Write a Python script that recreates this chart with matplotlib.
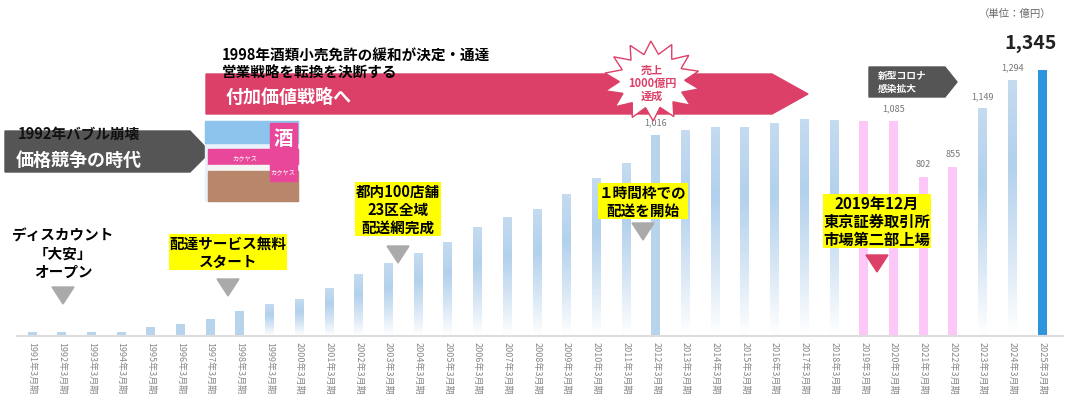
import numpy as np
import matplotlib
matplotlib.use("Agg")
import matplotlib.pyplot as plt
from matplotlib.patches import Polygon, Rectangle
from matplotlib.colors import LinearSegmentedColormap

plt.rcParams["font.family"] = "Noto Sans CJK JP"

years = list(range(1991, 2026))
sales = [20, 20, 20, 20, 45, 60, 85, 125, 160, 185, 240, 310, 365, 415, 475, 550,
         600, 640, 715, 795, 870, 1016, 1040, 1055, 1055, 1075, 1095, 1090, 1085,
         1085, 802, 855, 1149, 1294, 1345]
labels = [f"{y}年3月期" for y in years]
shown = {2012: "1,016", 2020: "1,085", 2021: "802", 2022: "855", 2023: "1,149", 2024: "1,294"}
solid_years = list(range(1991, 1999)) + [2012]
pink_years = [2019, 2020, 2021, 2022]

W, H = 1080, 410
fig = plt.figure(figsize=(W / 100, H / 100), dpi=100)
ax = fig.add_axes([0, 0, 1, 1])
pxu = (1042 - 32) / 34
vpp = 1345 / 266
ax.axis("off")

blue_fade = LinearSegmentedColormap.from_list("bf", ["#ffffff", "#d6e6f5", "#b3d1ec", "#c4dbf0"])
grad = np.linspace(1, 0, 100).reshape(-1, 1)
bw = 9 / pxu
for i, (y, v) in enumerate(zip(years, sales)):
    if y == 2025:
        ax.bar(i, v, bw, color="#2e95dc", zorder=2)
    elif y in pink_years:
        ax.bar(i, v, bw, color="#fcc8f8", zorder=2)
    elif y in solid_years:
        ax.bar(i, v, bw, color="#b8d4ec", zorder=2)
    else:
        ax.imshow(grad, cmap=blue_fade, aspect="auto", zorder=2,
                  extent=(i - bw / 2, i + bw / 2, 0, v))
    if y in shown:
        ax.text(i, v + 45, shown[y], ha="center", va="bottom", fontsize=6.5, color="#777777")
    ax.text(i, -25, labels[i], rotation=270, ha="center", va="top", fontsize=6.5, color="#888888")
ax.text(len(years) - 1 - 0.4, 1345 + 90, "1,345", ha="center", va="bottom",
        fontsize=14, fontweight="bold", color="#222222")
ax.plot([-0.5, len(years) - 0.3], [0, 0], color="#dddddd", lw=1.5, zorder=3)
ax.set_xlim(-32 / pxu, (W - 32) / pxu)
ax.set_ylim(-(H - 337) * vpp, 337 * vpp)

# overlay in pixel coordinates for annotations
ov = fig.add_axes([0, 0, 1, 1], facecolor="none")
ov.set_xlim(0, W)
ov.set_ylim(H, 0)
ov.axis("off")

ov.text(1015, 14, "（単位：億円）", ha="center", va="center", fontsize=7.5, color="#666666")

# pink strategy arrow
ov.add_patch(Polygon([(206, 75), (772, 75), (808, 95), (772, 115), (206, 115)], color="#dc4068"))
ov.text(226, 97, "付加価値戦略へ", color="white", fontsize=13, fontweight="bold", va="center")
ov.text(222, 56, "1998年酒類小売免許の緩和が決定・通達", fontsize=10.5, fontweight="bold", va="center")
ov.text(222, 73, "営業戦略を転換を決断する", fontsize=10.5, fontweight="bold", va="center")

# gray era arrow
ov.add_patch(Polygon([(5, 132), (190, 132), (210, 153), (190, 173), (5, 173)], color="#555555"))
ov.text(18, 134, "1992年バブル崩壊", fontsize=10.5, fontweight="bold", va="center", color="#111111")
ov.text(16, 160, "価格競争の時代", color="white", fontsize=13, fontweight="bold", va="center")

# store photo (simplified)
ov.add_patch(Rectangle((205, 122), 93, 80, color="#e9f1fa"))
ov.add_patch(Rectangle((205, 122), 93, 22, color="#8cc4ee"))
ov.add_patch(Rectangle((208, 150), 90, 16, color="#e8479a"))
ov.add_patch(Rectangle((208, 166), 90, 6, color="#f5f5f5"))
ov.add_patch(Rectangle((208, 172), 90, 30, color="#b8866a"))
ov.add_patch(Rectangle((270, 124), 27, 58, color="#e8479a"))
ov.text(283, 140, "酒", color="white", fontsize=14, fontweight="bold", ha="center", va="center")
ov.text(283, 172, "カクヤス", color="white", fontsize=4.5, ha="center", va="center")
ov.text(245, 158, "カクヤス", color="white", fontsize=4.5, ha="center", va="center")

# starburst
n = 14
ang = np.linspace(0, 2 * np.pi, 2 * n, endpoint=False) + 0.2
rad = np.where(np.arange(2 * n) % 2 == 0, 1.0, 0.68)
pts = np.c_[652 + 48 * rad * np.cos(ang), 82 + 40 * rad * np.sin(ang)]
ov.add_patch(Polygon(pts, facecolor="white", edgecolor="#dc4068", lw=1))
ov.text(652, 70, "売上", ha="center", va="center", fontsize=8, color="#dc4068", fontweight="bold")
ov.text(652, 83, "1000億円", ha="center", va="center", fontsize=8, color="#dc4068", fontweight="bold")
ov.text(652, 96, "達成", ha="center", va="center", fontsize=8, color="#dc4068", fontweight="bold")

# covid arrow
ov.add_patch(Polygon([(869, 68), (945, 68), (957, 83), (945, 98), (869, 98)], color="#555555"))
ov.text(878, 76, "新型コロナ", fontsize=7, color="white", va="center", fontweight="bold")
ov.text(878, 89, "感染拡大", fontsize=7, color="white", va="center", fontweight="bold")


def note(x, y, txt, tri_y, tri_color="#aaaaaa", yellow=True, size=10.5):
    kw = dict(ha="center", va="center", fontsize=size, fontweight="bold", linespacing=1.15)
    if yellow:
        kw["bbox"] = dict(boxstyle="square,pad=0.05", fc="#ffff00", ec="none")
    ov.text(x, y, txt, **kw)
    ov.add_patch(Polygon([(x - 11, tri_y), (x + 11, tri_y), (x, tri_y + 17)], color=tri_color))


note(63, 254, "ディスカウント\n「大安」\nオープン", 288, yellow=False)
note(228, 253, "配達サービス無料\nスタート", 280)
note(398, 210, "都内100店舗\n23区全域\n配送網完成", 247)
note(643, 202, "１時間枠での\n配送を開始", 224)
note(877, 222, "2019年12月\n東京証券取引所\n市場第二部上場", 256, tri_color="#dc4068", size=11)

fig.savefig("out.png", dpi=100)
